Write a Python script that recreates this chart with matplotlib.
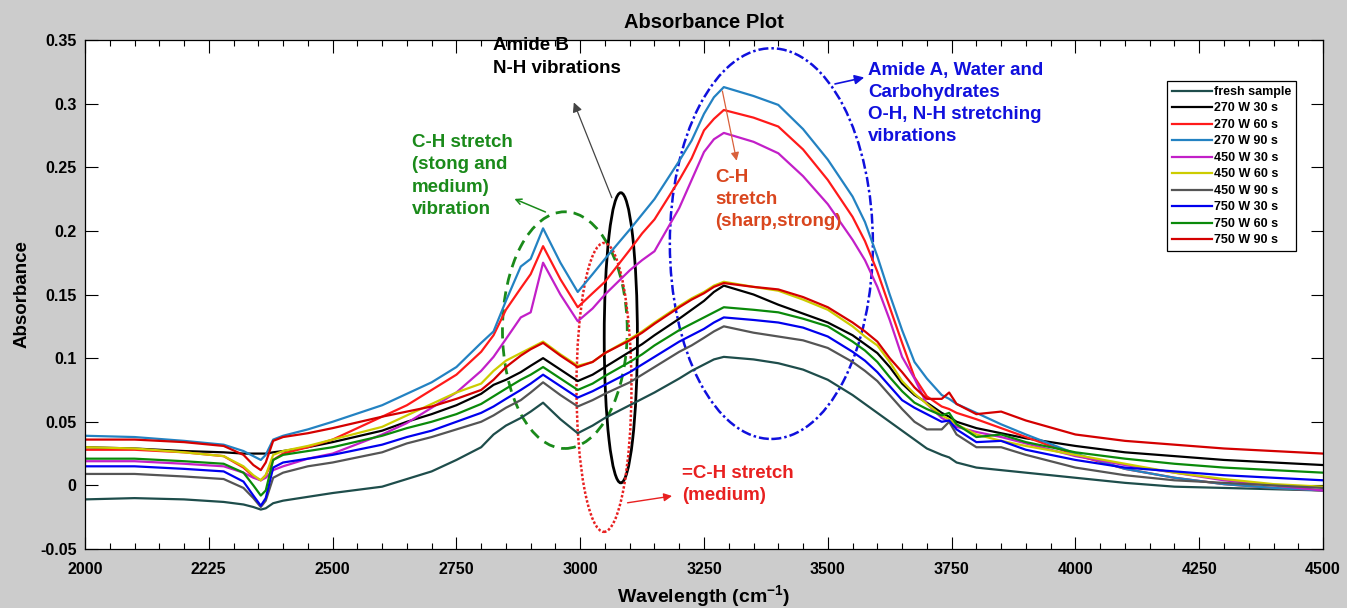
import numpy as np
import matplotlib.pyplot as plt
from matplotlib.patches import Ellipse
from matplotlib.ticker import MultipleLocator

plt.rcParams['font.family'] = ['Liberation Sans', 'DejaVu Sans']
plt.rcParams['font.weight'] = 'bold'
plt.rcParams['mathtext.fontset'] = 'custom'
plt.rcParams['mathtext.rm'] = 'Liberation Sans:bold'
plt.rcParams['mathtext.bf'] = 'Liberation Sans:bold'
plt.rcParams['mathtext.default'] = 'bf'

# wavenumber grid (cm-1)
wavenumber = [2000, 2100, 2200, 2280, 2320, 2340, 2355, 2365, 2380, 2400,
              2450, 2500, 2600, 2650, 2700, 2750, 2800, 2825, 2850, 2880,
              2900, 2925, 2960, 2995, 3025, 3050, 3100, 3125, 3150, 3200,
              3225, 3250, 3270, 3290, 3350, 3400, 3450, 3500, 3550, 3575,
              3600, 3625, 3650, 3675, 3700, 3730, 3745, 3760, 3800, 3850,
              3900, 4000, 4100, 4200, 4300, 4400, 4500]

fresh = [-0.011, -0.010, -0.011, -0.013, -0.015, -0.017, -0.019, -0.018, -0.014, -0.012,
         -0.009, -0.006, -0.001, 0.005, 0.011, 0.020, 0.030, 0.040, 0.047, 0.053,
         0.058, 0.065, 0.052, 0.041, 0.047, 0.053, 0.063, 0.068, 0.073, 0.084,
         0.090, 0.095, 0.099, 0.101, 0.099, 0.096, 0.091, 0.083, 0.071, 0.064,
         0.057, 0.050, 0.043, 0.036, 0.029, 0.024, 0.022, 0.018, 0.014, 0.012,
         0.010, 0.006, 0.002, -0.001, -0.002, -0.003, -0.004]
w270_30 = [0.030, 0.029, 0.027, 0.026, 0.025, 0.025, 0.025, 0.025, 0.026, 0.027,
           0.030, 0.034, 0.043, 0.050, 0.056, 0.063, 0.072, 0.079, 0.083, 0.089,
           0.094, 0.100, 0.091, 0.082, 0.087, 0.093, 0.105, 0.111, 0.118, 0.131,
           0.138, 0.145, 0.152, 0.157, 0.150, 0.142, 0.135, 0.128, 0.118, 0.111,
           0.104, 0.093, 0.080, 0.071, 0.065, 0.057, 0.054, 0.050, 0.045, 0.041,
           0.037, 0.031, 0.026, 0.023, 0.020, 0.018, 0.016]
w270_60 = [0.028, 0.028, 0.026, 0.023, 0.014, 0.007, 0.004, 0.008, 0.020, 0.025,
           0.030, 0.036, 0.054, 0.063, 0.075, 0.087, 0.105, 0.118, 0.138, 0.155,
           0.166, 0.188, 0.162, 0.140, 0.151, 0.160, 0.185, 0.198, 0.209, 0.240,
           0.257, 0.279, 0.288, 0.295, 0.289, 0.282, 0.264, 0.240, 0.211, 0.192,
           0.168, 0.140, 0.112, 0.085, 0.070, 0.062, 0.060, 0.057, 0.052, 0.045,
           0.038, 0.024, 0.013, 0.006, 0.001, -0.002, -0.004]
w270_90 = [0.039, 0.038, 0.035, 0.032, 0.027, 0.023, 0.020, 0.024, 0.036, 0.039,
           0.044, 0.050, 0.063, 0.072, 0.081, 0.093, 0.112, 0.121, 0.145, 0.172,
           0.178, 0.202, 0.175, 0.152, 0.166, 0.178, 0.201, 0.213, 0.225, 0.255,
           0.271, 0.292, 0.305, 0.313, 0.306, 0.299, 0.280, 0.256, 0.227, 0.207,
           0.180, 0.150, 0.122, 0.097, 0.084, 0.071, 0.068, 0.064, 0.057, 0.048,
           0.040, 0.025, 0.013, 0.006, 0.001, -0.002, -0.004]
w450_30 = [0.019, 0.019, 0.017, 0.015, 0.010, 0.006, 0.004, 0.006, 0.012, 0.015,
           0.021, 0.025, 0.040, 0.049, 0.061, 0.073, 0.090, 0.101, 0.115, 0.132,
           0.136, 0.175, 0.150, 0.129, 0.139, 0.150, 0.169, 0.177, 0.184, 0.218,
           0.240, 0.262, 0.272, 0.277, 0.270, 0.261, 0.243, 0.221, 0.193, 0.177,
           0.156, 0.130, 0.101, 0.084, 0.064, 0.053, 0.050, 0.046, 0.042, 0.038,
           0.033, 0.023, 0.016, 0.010, 0.004, 0.000, -0.004]
w450_60 = [0.030, 0.029, 0.026, 0.023, 0.015, 0.008, 0.004, 0.008, 0.024, 0.027,
           0.031, 0.036, 0.046, 0.055, 0.064, 0.073, 0.080, 0.090, 0.098, 0.104,
           0.108, 0.113, 0.103, 0.094, 0.097, 0.104, 0.115, 0.121, 0.128, 0.141,
           0.147, 0.152, 0.157, 0.160, 0.156, 0.153, 0.146, 0.138, 0.125, 0.117,
           0.110, 0.097, 0.082, 0.072, 0.064, 0.055, 0.052, 0.048, 0.040, 0.035,
           0.031, 0.024, 0.017, 0.010, 0.005, 0.001, -0.001]
w450_90 = [0.009, 0.009, 0.007, 0.005, -0.002, -0.010, -0.017, -0.012, 0.006, 0.010,
           0.015, 0.018, 0.026, 0.033, 0.038, 0.044, 0.050, 0.055, 0.061, 0.067,
           0.073, 0.081, 0.071, 0.062, 0.067, 0.072, 0.081, 0.087, 0.093, 0.105,
           0.110, 0.116, 0.121, 0.125, 0.120, 0.117, 0.114, 0.108, 0.097, 0.090,
           0.082, 0.071, 0.060, 0.050, 0.044, 0.044, 0.050, 0.040, 0.030, 0.030,
           0.024, 0.014, 0.008, 0.004, 0.002, 0.000, -0.002]
w750_30 = [0.015, 0.015, 0.013, 0.011, 0.003, -0.008, -0.016, -0.010, 0.014, 0.018,
           0.021, 0.024, 0.032, 0.038, 0.043, 0.050, 0.057, 0.062, 0.068, 0.075,
           0.080, 0.087, 0.078, 0.069, 0.074, 0.079, 0.089, 0.095, 0.101, 0.113,
           0.118, 0.123, 0.128, 0.132, 0.130, 0.128, 0.124, 0.117, 0.105, 0.098,
           0.089, 0.078, 0.067, 0.061, 0.056, 0.050, 0.051, 0.044, 0.034, 0.035,
           0.028, 0.020, 0.014, 0.011, 0.008, 0.006, 0.004]
w750_60 = [0.021, 0.021, 0.019, 0.017, 0.010, 0.000, -0.008, -0.004, 0.020, 0.024,
           0.027, 0.030, 0.039, 0.045, 0.050, 0.056, 0.064, 0.070, 0.076, 0.083,
           0.087, 0.093, 0.084, 0.075, 0.080, 0.086, 0.097, 0.103, 0.110, 0.122,
           0.127, 0.132, 0.136, 0.140, 0.138, 0.136, 0.131, 0.125, 0.113, 0.106,
           0.097, 0.085, 0.074, 0.065, 0.060, 0.055, 0.057, 0.048, 0.038, 0.040,
           0.034, 0.026, 0.021, 0.017, 0.014, 0.012, 0.010]
w750_90 = [0.036, 0.036, 0.034, 0.031, 0.024, 0.016, 0.012, 0.018, 0.035, 0.038,
           0.041, 0.045, 0.054, 0.058, 0.062, 0.068, 0.075, 0.083, 0.093, 0.102,
           0.107, 0.112, 0.102, 0.093, 0.097, 0.104, 0.114, 0.120, 0.127, 0.140,
           0.146, 0.151, 0.156, 0.159, 0.156, 0.154, 0.148, 0.140, 0.128, 0.121,
           0.113, 0.100, 0.089, 0.077, 0.068, 0.068, 0.073, 0.064, 0.056, 0.058,
           0.051, 0.040, 0.035, 0.032, 0.029, 0.027, 0.025]

labels = ['fresh sample', '270 W 30 s', '270 W 60 s', '270 W 90 s', '450 W 30 s',
          '450 W 60 s', '450 W 90 s', '750 W 30 s', '750 W 60 s', '750 W 90 s']
colors = ['#1e4d4b', '#000000', '#ff1a1a', '#2382c2', '#c21fc8',
          '#cccc00', '#555555', '#0000ee', '#0a8a0a', '#d40000']

xtick_pos = [2000, 2250, 2500, 2750, 3000, 3250, 3500, 3750, 4000, 4250, 4500]
xtick_labels = ['2000', '2225', '2500', '2750', '3000', '3250', '3500', '3750',
                '4000', '4250', '4500']
ytick_pos = [-0.05, 0, 0.05, 0.1, 0.15, 0.2, 0.25, 0.3, 0.35]
ytick_labels = ['-0.05', '0', '0.05', '0.1', '0.15', '0.2', '0.25', '0.3', '0.35']

series = [fresh, w270_30, w270_60, w270_90, w450_30,
          w450_60, w450_90, w750_30, w750_60, w750_90]

fig = plt.figure(figsize=(13.47, 6.08), dpi=100, facecolor='#cccccc')
ax = fig.add_axes([0.0631, 0.097, 0.9191, 0.8372])
ax.set_facecolor('white')

for y, c, lab in zip(series, colors, labels):
    ax.plot(wavenumber, y, color=c, lw=1.6, label=lab)

ax.set_xlim(2000, 4500)
ax.set_ylim(-0.05, 0.35)
ax.set_xticks(xtick_pos)
ax.set_xticklabels(xtick_labels)
ax.set_yticks(ytick_pos)
ax.set_yticklabels(ytick_labels)
ax.xaxis.set_minor_locator(MultipleLocator(50))
ax.tick_params(which='both', direction='in', top=True, right=True, width=0.8)
ax.tick_params(which='major', length=9, labelsize=11.5)
ax.tick_params(axis='x', which='major', pad=9)
ax.tick_params(axis='y', which='major', pad=6)
ax.tick_params(which='minor', length=4.5)
for s in ax.spines.values():
    s.set_linewidth(0.9)

ax.set_title('Absorbance Plot', fontsize=14.5, fontweight='bold', pad=9)
ax.set_xlabel('Wavelength (cm$^{-1}$)', fontsize=14, fontweight='bold', labelpad=5)
ax.set_ylabel('Absorbance', fontsize=13.5, fontweight='bold', labelpad=7)

# region markers
ax.add_patch(Ellipse((2969, 0.122), 252, 0.186, fill=False, ec='#1a8a1a', lw=2,
                     ls=(0, (4, 2.5))))
ax.add_patch(Ellipse((3082, 0.116), 67, 0.228, fill=False, ec='black', lw=2))
ax.add_patch(Ellipse((3048, 0.077), 111, 0.227, fill=False, ec='#e82020', lw=1.8,
                     ls=(0, (1, 0.8))))
ax.add_patch(Ellipse((3386, 0.190), 410, 0.307, fill=False, ec='#1010dd', lw=1.8,
                     ls=(0, (4, 1.2, 1, 1.2))))

ax.annotate('', xy=(2862, 0.226), xytext=(2935, 0.214),
            arrowprops=dict(arrowstyle='->', color='#1a8a1a', lw=1.1))
ax.annotate('', xy=(2985, 0.303), xytext=(3066, 0.224),
            arrowprops=dict(arrowstyle='-|>', color='#444444', lw=0.9, mutation_scale=14))
ax.annotate('', xy=(3191, -0.008), xytext=(3090, -0.014),
            arrowprops=dict(arrowstyle='-|>', color='#e82020', lw=1.0, mutation_scale=12))
ax.annotate('', xy=(3579, 0.321), xytext=(3509, 0.315),
            arrowprops=dict(arrowstyle='-|>', color='#1010dd', lw=1.2, mutation_scale=14))
ax.annotate('', xy=(3317, 0.253), xytext=(3286, 0.312),
            arrowprops=dict(arrowstyle='-|>', color='#d9603b', lw=0.9, mutation_scale=12))

note_kw = dict(fontsize=13.5, fontweight='bold', va='top', ha='left', linespacing=1.4)
ax.text(2660, 0.276, 'C-H stretch\n(stong and\nmedium)\nvibration', color='#1a8a1a',
        **note_kw)
ax.text(2824, 0.352, 'Amide B\nN-H vibrations', color='black', **note_kw)
ax.text(3206, 0.016, '=C-H stretch\n(medium)', color='#e82020', **note_kw)
ax.text(3581, 0.333, 'Amide A, Water and\nCarbohydrates\nO-H, N-H stretching\nvibrations',
        color='#1010dd', **note_kw)
ax.text(3272, 0.249, 'C-H\nstretch\n(sharp,strong)', color='#d9461e', **note_kw)

leg = ax.legend(loc='upper left', bbox_to_anchor=(0.8664, 0.8668),
                bbox_transform=fig.transFigure, fontsize=9, frameon=True,
                fancybox=False, framealpha=1, edgecolor='black', borderaxespad=0,
                borderpad=0.4, handlelength=3.2, handletextpad=0.15, labelspacing=0.36)
leg.get_frame().set_linewidth(0.9)
for t in leg.get_texts():
    t.set_fontweight('bold')

fig.savefig('out.png', dpi=100, facecolor=fig.get_facecolor())
